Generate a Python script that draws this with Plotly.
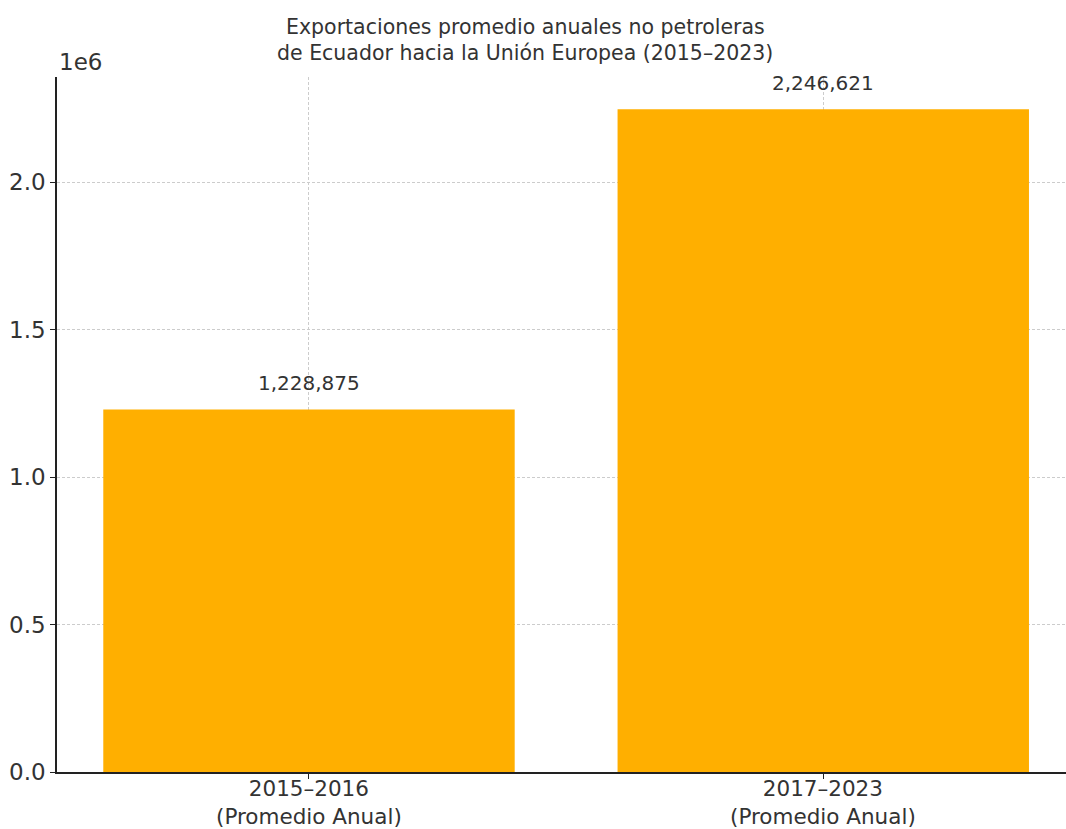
import plotly.graph_objects as go

periods = ["2015–2016", "2017–2023"]
subtitle = ["(Promedio Anual)", "(Promedio Anual)"]
values = [1228875, 2246621]
ytick_vals = [0, 500000, 1000000, 1500000, 2000000]
ytick_text = ["0.0", "0.5", "1.0", "1.5", "2.0"]
title_lines = ["Exportaciones promedio anuales no petroleras",
               "de Ecuador hacia la Unión Europea (2015–2023)"]

BAR = "#FFAF00"
TXT = "#333333"
FONT = "DejaVu Sans"

W, H = 1066, 829
ML, MR, MT, MB = 57, 0, 77, 57
PH = H - MT - MB
PW = W - ML - MR

fig = go.Figure()
fig.add_trace(go.Bar(x=periods, y=values, width=0.8,
                     marker=dict(color=BAR, line=dict(width=0)),
                     hoverinfo="skip"))

for c, v in zip(periods, values):
    fig.add_annotation(x=c, y=v, text=f"{v:,.0f}", showarrow=False,
                       yanchor="bottom", yshift=12,
                       font=dict(family=FONT, size=20, color=TXT))

# two-line category labels under the axis
for c, s in zip(periods, subtitle):
    fig.add_annotation(x=c, yref="paper", y=-(802 - (H - MB)) / PH,
                       text=f"{c}<br>{s}", showarrow=False,
                       xanchor="center", yanchor="middle", borderpad=0,
                       font=dict(family=FONT, size=21.5, color=TXT))

fig.add_annotation(xref="paper", yref="paper", x=0, y=1.0, xanchor="left",
                   yanchor="bottom", text="1e6", showarrow=False,
                   font=dict(family=FONT, size=23, color=TXT))

# title lines (centers at y=27 and y=53 px from top, x=525 px)
for line, cy in zip(title_lines, [27, 53]):
    fig.add_annotation(xref="paper", yref="paper",
                       x=(525 - ML) / PW, y=1 + (MT - cy) / PH,
                       xanchor="center", yanchor="middle", text=line,
                       showarrow=False,
                       font=dict(family=FONT, size=20.5, color=TXT))

fig.update_layout(
    width=W, height=H,
    margin=dict(l=ML, r=MR, t=MT, b=MB, autoexpand=False),
    paper_bgcolor="white", plot_bgcolor="white",
    showlegend=False,
    font=dict(family=FONT, color=TXT),
)
fig.update_xaxes(range=[-0.49, 1.472], showline=True, linecolor="#222222",
                 linewidth=1.5, ticks="outside", ticklen=5, tickcolor="#222222",
                 showgrid=True, gridcolor="#cccccc", griddash="3px,2px", gridwidth=1,
                 showticklabels=False,
                 automargin=False, zeroline=False)
fig.update_yaxes(range=[0, 2356000], tickvals=ytick_vals, ticktext=ytick_text,
                 showline=True, linecolor="#222222", linewidth=1.5,
                 ticks="outside", ticklen=5, tickcolor="#222222",
                 showgrid=True, gridcolor="#cccccc", griddash="3px,2px", gridwidth=1,
                 tickfont=dict(family=FONT, size=23, color=TXT),
                 automargin=False, zeroline=False)

fig.write_html("out.html", config={"displayModeBar": False},
               post_script="document.body.style.margin='0';document.body.style.overflow='hidden';")
